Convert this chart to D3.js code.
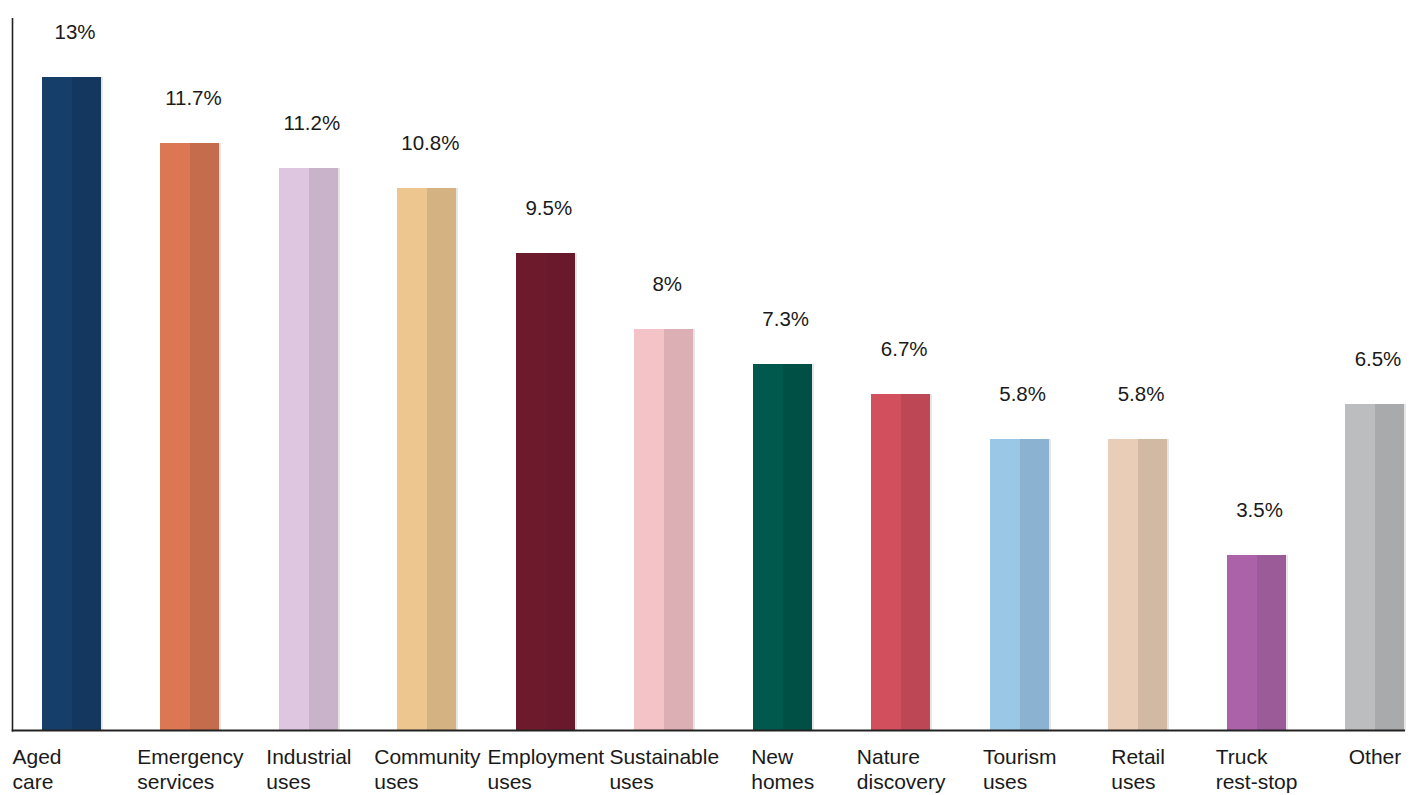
<!DOCTYPE html>
<html>
<head>
<meta charset="utf-8">
<script src="https://cdn.jsdelivr.net/npm/d3@7"></script>
<style>
  html, body { margin: 0; padding: 0; background: #fff; }
  svg { display: block; }
  text { font-family: "Liberation Sans", Arial, Helvetica, sans-serif; fill: #1a1a1a; }
</style>
</head>
<body>
<svg id="chart" width="1421" height="795"></svg>
<script>
// ---- data ----
const categories = [
  ["Aged", "care"],
  ["Emergency", "services"],
  ["Industrial", "uses"],
  ["Community", "uses"],
  ["Employment", "uses"],
  ["Sustainable", "uses"],
  ["New", "homes"],
  ["Nature", "discovery"],
  ["Tourism", "uses"],
  ["Retail", "uses"],
  ["Truck", "rest-stop"],
  ["Other"]
];
const values = [13, 11.7, 11.2, 10.8, 9.5, 8, 7.3, 6.7, 5.8, 5.8, 3.5, 6.5];
const valueLabels = ["13%", "11.7%", "11.2%", "10.8%", "9.5%", "8%", "7.3%", "6.7%", "5.8%", "5.8%", "3.5%", "6.5%"];
const lightColors = ["#153e6a", "#db7853", "#dec6e0", "#edc68f", "#6e1a2d", "#f4c3c8",
                     "#00594c", "#d24f5d", "#9bc7e6", "#e9cdb6", "#ac62a9", "#bcbdbf"];
const darkColors  = ["#13375f", "#c46c4b", "#c9b3ca", "#d5b281", "#6a192c", "#dcafb4",
                     "#005045", "#bd4754", "#8bb2d1", "#d2b9a4", "#9b5a98", "#a9aaac"];

// ---- layout ----
const svg = d3.select("#chart");
const axisX = 12.5, baseY = 730.5, topY = 18, axisEnd = 1405;
const halfW = 29;
const idx = d3.range(values.length);

const x = d3.scalePoint().domain(idx).range([72, 1375]);
const y = d3.scaleLinear().domain([0, 14.18]).range([baseY, topY]);

const bars = svg.append("g").attr("shape-rendering", "crispEdges");
idx.forEach(i => {
  const cx = Math.round(x(i)), top = Math.round(y(values[i])), h = Math.round(baseY) - top;
  const g = bars.append("g");
  g.append("rect").attr("x", cx + halfW).attr("y", top).attr("width", 2).attr("height", h).attr("fill", "#e6e6e6");
  g.append("rect").attr("x", cx - halfW - 1).attr("y", top).attr("width", halfW + 1).attr("height", h).attr("fill", lightColors[i]);
  g.append("rect").attr("x", cx).attr("y", top).attr("width", halfW).attr("height", h).attr("fill", darkColors[i]);
});

// axes lines
svg.append("line").attr("x1", axisX).attr("x2", axisX).attr("y1", topY).attr("y2", baseY + 1)
  .attr("stroke", "#222").attr("stroke-width", 1.6);
svg.append("line").attr("x1", axisX - 0.8).attr("x2", axisEnd).attr("y1", baseY).attr("y2", baseY)
  .attr("stroke", "#222").attr("stroke-width", 1.8);

// value labels
svg.append("g").selectAll("text").data(idx).join("text")
  .attr("x", i => x(i) + 3)
  .attr("y", i => y(values[i]) - 38)
  .attr("text-anchor", "middle")
  .attr("font-size", 20.5)
  .text(i => valueLabels[i]);

// category labels
const catG = svg.append("g");
idx.forEach(i => {
  const t = catG.append("text").attr("font-size", 21).attr("y", 764);
  categories[i].forEach((line, k) => {
    t.append("tspan").attr("x", 0).attr("dy", k === 0 ? 0 : 25).text(line);
  });
  const w = d3.max(t.selectAll("tspan").nodes(), n => n.getComputedTextLength());
  const left = i === 0 ? axisX : x(i) - w / 2;
  t.selectAll("tspan").attr("x", left);
});
</script>
</body>
</html>
